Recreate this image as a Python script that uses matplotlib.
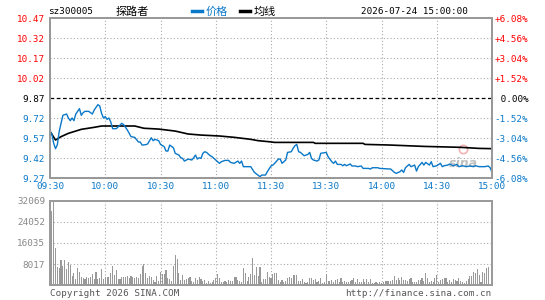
import matplotlib
matplotlib.use("Agg")
import matplotlib.pyplot as plt
import numpy as np

# ---------------- data ----------------
price_ticks = [10.47, 10.32, 10.17, 10.02, 9.87, 9.72, 9.57, 9.42, 9.27]
pct_labels = ["+6.08%", "+4.56%", "+3.04%", "+1.52%", " 0.00%", "-1.52%", "-3.04%", "-4.56%", "-6.08%"]
time_labels = ["09:30", "10:00", "10:30", "11:00", "11:30", "13:30", "14:00", "14:30", "15:00"]
vol_ticks = [32069, 24052, 16035, 8017]
prev_close = 9.87

price_minute = [0, 1, 2, 3, 4, 5, 6, 7, 9, 10, 11, 12, 13, 14, 15, 16, 17, 18, 19, 21, 23, 24, 26, 27, 28, 29, 30,
                31, 32, 33, 34, 36, 38, 39, 40, 42, 44, 46, 48, 49, 50, 52, 53, 55, 56, 57, 59, 60, 62, 63, 64,
                65, 67, 68, 70, 71, 72, 73, 75, 77, 78, 79, 80, 81, 82, 83, 84, 85, 87, 88, 90, 92, 93, 95, 97,
                98, 100, 102, 103, 104, 105, 109, 111, 114, 115, 117, 118, 120, 121, 122, 124, 125, 126, 128,
                129, 131, 132, 133, 134, 135, 136, 138, 140, 141, 142, 143, 145, 146, 147, 150, 151, 153, 154,
                155, 156, 158, 159, 160, 161, 163, 164, 166, 167, 169, 170, 173, 174, 175, 178, 179, 185, 187,
                188, 190, 191, 192, 193, 195, 196, 198, 199, 200, 202, 203, 204, 206, 207, 208, 210, 212, 213,
                214, 216, 217, 219, 221, 222, 224, 226, 228, 230, 231, 233, 236, 238, 239, 240]
price_value = [9.62, 9.60, 9.53, 9.49, 9.52, 9.62, 9.68, 9.74, 9.75, 9.72, 9.70, 9.72, 9.70, 9.75, 9.77, 9.79,
               9.74, 9.76, 9.77, 9.77, 9.75, 9.78, 9.82, 9.81, 9.755, 9.72, 9.73, 9.71, 9.72, 9.69, 9.64, 9.64,
               9.667, 9.68, 9.67, 9.63, 9.58, 9.575, 9.54, 9.54, 9.517, 9.52, 9.525, 9.572, 9.55, 9.56, 9.55,
               9.522, 9.505, 9.472, 9.472, 9.517, 9.497, 9.455, 9.442, 9.422, 9.417, 9.397, 9.412, 9.405, 9.422,
               9.442, 9.412, 9.422, 9.417, 9.455, 9.467, 9.462, 9.437, 9.43, 9.405, 9.38, 9.392, 9.402, 9.402,
               9.387, 9.38, 9.397, 9.38, 9.397, 9.355, 9.355, 9.312, 9.28, 9.292, 9.292, 9.317, 9.36, 9.367,
               9.38, 9.412, 9.412, 9.38, 9.405, 9.462, 9.467, 9.492, 9.512, 9.522, 9.467, 9.462, 9.437, 9.447,
               9.462, 9.417, 9.405, 9.397, 9.405, 9.455, 9.462, 9.43, 9.392, 9.38, 9.397, 9.372, 9.372, 9.362,
               9.372, 9.362, 9.375, 9.36, 9.36, 9.355, 9.36, 9.342, 9.342, 9.337, 9.347, 9.347, 9.342, 9.337,
               9.312, 9.305, 9.317, 9.33, 9.312, 9.347, 9.372, 9.355, 9.367, 9.322, 9.355, 9.387, 9.367, 9.387,
               9.367, 9.392, 9.355, 9.362, 9.38, 9.355, 9.362, 9.367, 9.375, 9.362, 9.372, 9.355, 9.362, 9.355,
               9.36, 9.355, 9.362, 9.355, 9.355, 9.36, 9.347, 9.312]

avg_minute = [0, 3, 6, 10, 17, 24, 28, 46, 51, 59, 68, 75, 82, 92, 100, 109, 113, 119, 122, 143, 144, 170, 171,
              184, 203, 223, 233, 240]
avg_value = [9.62, 9.555, 9.58, 9.605, 9.635, 9.65, 9.66, 9.66, 9.643, 9.637, 9.622, 9.60, 9.592, 9.585, 9.575,
             9.56, 9.55, 9.542, 9.537, 9.537, 9.53, 9.53, 9.522, 9.5175, 9.507, 9.50, 9.492, 9.49]

volume_am = [5700, 28400, 32069, 14000, 7000, 6400, 9500, 7250, 9500, 6000,
             8900, 7600, 3400, 4450, 2150, 6400, 5000, 3200, 2550, 2300,
             2900, 2800, 3200, 4200, 2150, 5100, 2400, 2800, 6100, 2150,
             3200, 2900, 2900, 4450, 7250, 3800, 5700, 2400, 2150, 2900,
             3200, 2900, 3400, 2550, 3550, 3050, 2650, 2900, 2650, 4200,
             7250, 7900, 4450, 2550, 3550, 2900, 1900, 1250, 3400, 1400,
             5100, 4200, 4200, 5700, 2550, 2150, 1650, 7250, 11450, 9900,
             4700, 1900, 3800, 1900, 2300, 2550, 3200, 1650, 1250, 2550,
             1900, 2900, 2300, 1650, 1900, 900, 1650, 900, 1250, 1900,
             2550, 4200, 2550, 1150, 1250, 1550, 1250, 1900, 1550, 1650,
             2900, 2900, 1900, 1650, 1250, 6400, 4700, 1550, 2900, 4200,
             10200, 3800, 6750, 3400, 6750, 1250, 2400, 2300, 5000, 2900]
volume_pm = [2800, 4070, 4450, 4450, 1900, 1270, 1900, 1270, 1530, 2550,
             3050, 2550, 3820, 3820, 3820, 1530, 1530, 2160, 1270, 640,
             1270, 2550, 2550, 1900, 2290, 1270, 1650, 2550, 640, 1270,
             4070, 1530, 1650, 1900, 1270, 1900, 2160, 1270, 2550, 1020,
             1650, 1270, 1020, 1530, 1900, 2800, 1270, 2160, 1020, 1270,
             2290, 1020, 2160, 1020, 2290, 760, 890, 1020, 760, 1270,
             640, 1270, 1650, 1530, 1530, 1530, 1900, 3440, 1900, 2550,
             1900, 3180, 1900, 1900, 1530, 2160, 2550, 1020, 1270, 1020,
             2040, 1900, 2550, 1530, 4580, 2800, 1150, 1530, 1020, 2550,
             3820, 1020, 1780, 2290, 2800, 2550, 1020, 1900, 1270, 2160,
             1900, 1530, 2800, 1530, 1020, 640, 1530, 2160, 3440, 3440,
             4840, 4450, 6110, 3820, 1270, 4840, 4450, 6620, 7000, 0, 0]

# ---------------- style ----------------
W, H = 545, 300
BLUE = "#0a78c8"
RED = "#ff0000"
GREY = "#999999"
MONO = "DejaVu Sans Mono"
CJK = ["Noto Sans CJK SC", "DejaVu Sans"]
FS = 6.7

fig = plt.figure(figsize=(W / 100, H / 100), dpi=100)
fig.patch.set_facecolor("white")


def px_axes(left, top, right, bottom):
    return fig.add_axes([left / W, 1 - bottom / H, (right - left) / W, (bottom - top) / H])


ax = px_axes(50, 18, 492, 178)
axv = px_axes(50, 201, 492, 285)

grid_kw = dict(color="#aaaaaa", lw=0.8, linestyle=(0, (1, 2)))

# ---- price panel ----
ax.set_xlim(0, 240)
ax.set_ylim(price_ticks[-1], price_ticks[0])
for t in price_ticks[1:-1]:
    if abs(t - prev_close) < 1e-9:
        ax.axhline(t, color="black", lw=0.9, linestyle=(0, (3, 2)), zorder=1)
    else:
        ax.axhline(t, **grid_kw, zorder=1)
for m in range(30, 240, 30):
    ax.axvline(m, **grid_kw, zorder=1)

ax.plot(avg_minute, avg_value, color="black", lw=1.2, zorder=3)
ax.plot(price_minute, price_value, color=BLUE, lw=1.0, zorder=4)

ax.set_yticks(price_ticks)
ax.set_yticklabels([f"{t:.2f}" for t in price_ticks], family=MONO, fontsize=FS)
for lab, t in zip(ax.get_yticklabels(), price_ticks):
    lab.set_color(RED if t > prev_close + 1e-9 else ("black" if abs(t - prev_close) < 1e-9 else BLUE))
ax.tick_params(axis="y", length=0, pad=3.5)

ax.set_xticks(range(0, 241, 30))
ax.set_xticklabels(time_labels, family=MONO, fontsize=FS, color=BLUE)
ax.tick_params(axis="x", length=0, pad=3)

ax2 = ax.twinx()
ax2.set_ylim(ax.get_ylim())
ax2.set_yticks(price_ticks)
ax2.set_yticklabels(pct_labels, family=MONO, fontsize=FS)
for lab, t in zip(ax2.get_yticklabels(), price_ticks):
    lab.set_color(RED if t > prev_close + 1e-9 else ("black" if abs(t - prev_close) < 1e-9 else BLUE))
ax2.tick_params(axis="y", length=0, pad=2)

for a in (ax, ax2, axv):
    for s in a.spines.values():
        s.set_color(GREY)
        s.set_linewidth(1.4)

# watermark
ax.text(0.935, 0.09, "sina", transform=ax.transAxes, fontsize=9, fontweight="bold", style="italic",
        color="#b0b0b0", alpha=0.8, ha="center", va="center", zorder=2)
ax.plot([0.935], [0.18], marker="o", ms=6, mfc="none", mec="#f0a0a0", mew=1.2, transform=ax.transAxes,
        zorder=2, alpha=0.8)

# ---- volume panel ----
volume = volume_am + volume_pm
minutes = np.arange(len(volume))
axv.set_xlim(0, 240)
axv.set_ylim(0, vol_ticks[0])
for t in vol_ticks[1:]:
    axv.axhline(t, **grid_kw, zorder=1)
for m in range(30, 240, 30):
    axv.axvline(m, **grid_kw, zorder=1)
axv.bar(minutes, volume, width=0.6, color=GREY, linewidth=0, zorder=2)
axv.set_yticks(vol_ticks)
axv.set_yticklabels([str(v) for v in vol_ticks], family=MONO, fontsize=FS, color="#888888")
axv.tick_params(axis="y", length=0, pad=3.5)
axv.set_xticks([])

# ---- header ----
def fx(x):
    return x / W


def fy(y):
    return 1 - y / H


fig.text(fx(48), fy(11), "sz300005", family=MONO, fontsize=FS, color="black", va="center", ha="left")
fig.text(fx(116), fy(11.5), "探路者", family=CJK, fontsize=8, color="black", va="center", ha="left")
fig.add_artist(plt.Line2D([fx(192), fx(202)], [fy(11), fy(11)], color=BLUE, lw=2.5))
fig.text(fx(206), fy(11.5), "价格", family=CJK, fontsize=8, color=BLUE, va="center", ha="left")
fig.add_artist(plt.Line2D([fx(240), fx(250)], [fy(11), fy(11)], color="black", lw=2.5))
fig.text(fx(254), fy(11.5), "均线", family=CJK, fontsize=8, color="black", va="center", ha="left")
fig.text(fx(468), fy(11), "2026-07-24 15:00:00", family=MONO, fontsize=FS, color="black", va="center",
         ha="right")

# ---- footer ----
fig.text(fx(50), fy(293), "Copyright 2026 SINA.COM", family=MONO, fontsize=FS, color="#555555",
         va="center", ha="left")
fig.text(fx(491), fy(293), "http://finance.sina.com.cn", family=MONO, fontsize=FS, color="#555555",
         va="center", ha="right")

fig.savefig("out.png", dpi=100, facecolor="white")
